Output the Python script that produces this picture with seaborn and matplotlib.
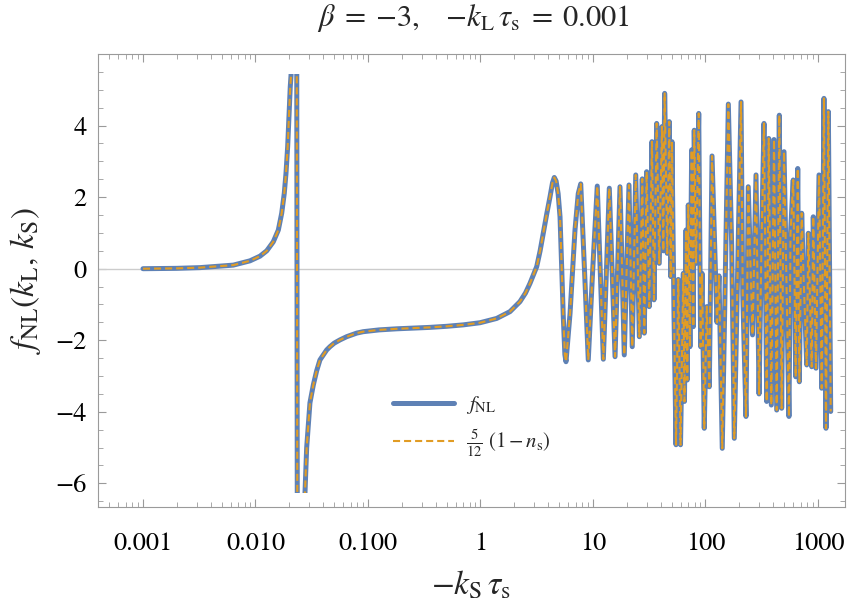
import numpy as np
import pandas as pd
import matplotlib
matplotlib.use("Agg")
import matplotlib.pyplot as plt
import matplotlib.ticker as mticker
from matplotlib.patches import Rectangle
from matplotlib.lines import Line2D
import seaborn as sns

# log10(-k_S tau_s) and f_NL values
log_k = [
    -3.000, -2.700, -2.493, -2.197, -2.049, -1.960, -1.900, -1.842, -1.797, -1.767,
    -1.744, -1.729, -1.714, -1.702, -1.691, -1.684, -1.675, -1.634, -1.628, -1.575,
    -1.560, -1.545, -1.531, -1.516, -1.486, -1.456, -1.427, -1.367, -1.338, -1.300,
    -1.249, -1.189, -1.100, -1.042, -0.900, -0.745, -0.600, -0.449, -0.300, -0.153,
    -0.004, 0.144, 0.262, 0.351, 0.400, 0.440, 0.500, 0.530, 0.558, 0.590,
    0.618, 0.640, 0.656, 0.672, 0.690, 0.707, 0.736, 0.750, 0.760, 0.796,
    0.840, 0.869, 0.891, 0.924, 0.958, 0.998, 1.038,
    1.092, 1.145, 1.196, 1.240, 1.278, 1.320, 1.349, 1.380, 1.412, 1.438,
    1.456, 1.477, 1.500, 1.524, 1.542, 1.566, 1.589, 1.613, 1.625, 1.637,
    1.660, 1.678, 1.691, 1.702, 1.720, 1.738, 1.758, 1.778, 1.803, 1.813,
    1.827, 1.838, 1.847, 1.862, 1.877, 1.892, 1.900, 1.916, 1.940, 1.957,
    1.969, 1.989, 2.011, 2.034, 2.058, 2.102, 2.120, 2.149, 2.203, 2.233,
    2.256, 2.316, 2.331, 2.360, 2.380, 2.418, 2.449, 2.476, 2.499, 2.520,
    2.544, 2.562, 2.585, 2.609, 2.633, 2.656, 2.677, 2.698, 2.742, 2.756,
    2.780, 2.802, 2.820, 2.834, 2.855, 2.870, 2.900, 2.914, 2.944, 2.958,
    2.982, 3.009, 3.033, 3.053, 3.071, 3.092, 3.113,
]
fnl = [
    0.00, 0.01, 0.03, 0.10, 0.22, 0.35, 0.50, 0.75, 1.08, 1.55,
    2.11, 2.66, 3.41, 4.25, 5.08, 5.41, 7.50, 8.00, -8.00, -8.00,
    -6.27, -5.00, -4.41, -3.75, -3.25, -2.85, -2.55, -2.27, -2.18, -2.08,
    -1.99, -1.90, -1.80, -1.76, -1.71, -1.68, -1.66, -1.64, -1.61, -1.57,
    -1.51, -1.39, -1.20, -0.92, -0.68, -0.41, 0.06, 0.50, 0.99, 1.55,
    2.01, 2.40, 2.55, 2.45, 2.10, 1.45, -1.34, -2.40, -2.60, -1.25,
    1.08, 2.10, 2.37, 0.00, -2.55, 0.00, 2.31,
    -2.53, 2.25, -2.46, 2.29, -2.41, 2.34, -2.18, 2.62, -1.90, 2.51,
    -1.80, 2.71, -1.06, 3.55, -0.87, 4.06, 0.15, 3.97, 0.50, 4.90,
    0.43, 4.11, -0.22, 3.55, -1.25, -4.92, -0.30, -4.92, -0.13, -3.71,
    1.08, -3.11, 1.78, -2.18, 3.32, -1.62, 3.87, 0.15, 4.34, -2.18,
    -0.13, -4.46, -1.06, -3.30, 3.15, -1.50, -0.20, -5.02, 4.60, 0.61,
    -4.74, 4.66, -0.69, -4.13, 2.29, -1.85, 2.62, -3.50, 0.89, 4.06,
    -3.71, 3.64, -3.81, 3.61, -3.95, 4.29, -3.90, 3.27, -4.13, 0.99,
    2.48, -3.02, 2.80, -3.16, 1.55, -0.08, -2.69, 0.99, -2.74, 1.45,
    -2.78, 2.62, -3.34, 4.76, -4.46, 4.39, -3.99,
]
# 5/12 (1 - n_s) lies on top of f_NL everywhere in the picture
ns_term = list(fnl)

x_ticks = [0.001, 0.01, 0.1, 1, 10, 100, 1000]
x_labels = ["0.001", "0.010", "0.100", "1", "10", "100", "1000"]
y_ticks = [-6, -4, -2, 0, 2, 4]

blue = "#5e81b5"
orange = "#e19c24"
frame = "#9a9a9a"

df = pd.DataFrame({"k": 10 ** np.array(log_k), "fnl": fnl, "ns": ns_term})

sns.set_style("ticks")
plt.rcParams["font.family"] = ["STIXGeneral", "DejaVu Serif"]
plt.rcParams["mathtext.fontset"] = "stix"

fig = plt.figure(figsize=(8.55, 6.09), dpi=100)
ax = fig.add_axes([0.1146, 0.1675, 0.8737, 0.7438])

ax.axhline(0, color="#cccccc", lw=1.0, zorder=1)

sns.lineplot(data=df, x="k", y="fnl", ax=ax, color=blue, lw=3.6,
             sort=False, estimator=None, zorder=3)
sns.lineplot(data=df, x="k", y="ns", ax=ax, color=orange, lw=1.5,
             ls=(0, (3.4, 1.9)), sort=False, estimator=None, zorder=4)

ax.set_xscale("log")
ax.set_xlim(10 ** -3.4, 10 ** 3.24)
ax.set_ylim(-6.66, 6.0)

# curves are cut at the plot range, the frame has some padding
clip = Rectangle((1e-5, -6.27), 1e5, 11.70, transform=ax.transData)
for ln in ax.lines[1:]:
    ln.set_clip_path(clip)

ax.set_xticks(x_ticks)
ax.set_xticklabels(x_labels)
ax.xaxis.set_minor_locator(mticker.LogLocator(base=10, subs=np.arange(2, 10)))
ax.xaxis.set_minor_formatter(mticker.NullFormatter())
ax.set_yticks(y_ticks)
ax.yaxis.set_minor_locator(mticker.MultipleLocator(0.5))

ax.tick_params(which="both", direction="in", top=True, right=True,
               color=frame, labelsize=19, labelcolor="black")
ax.tick_params(axis="x", pad=18)
ax.tick_params(axis="y", pad=8)
ax.tick_params(which="major", length=6, width=0.8)
ax.tick_params(which="minor", length=3.5, width=0.6)
for s in ax.spines.values():
    s.set_color(frame)
    s.set_linewidth(0.8)

ax.set_xlabel(r"$-k_{\rm S}\,\tau_{\rm s}$", fontsize=24, labelpad=9)
ax.set_ylabel(r"$f_{\rm NL}(k_{\rm L},\,k_{\rm S})$", fontsize=24, labelpad=9)
fig.text(0.554, 0.970, r"$\beta\;=\;{-3},\quad {-k_{\rm L}}\,\tau_{\rm s}\;=\;0.001$",
         fontsize=22, ha="center", va="center")

handles = [
    Line2D([], [], color=blue, lw=3.6),
    Line2D([], [], color=orange, lw=1.5, ls=(0, (3.4, 1.9))),
]
ax.legend(handles, [r"$f_{\rm NL}$", r"$\frac{5}{12}\ (1-n_{\rm s})$"],
          loc="upper left", bbox_to_anchor=(0.37, 0.29), frameon=False,
          fontsize=15, handlelength=2.9, labelspacing=0.55, handletextpad=0.6)

plt.savefig("out.png", dpi=100)
